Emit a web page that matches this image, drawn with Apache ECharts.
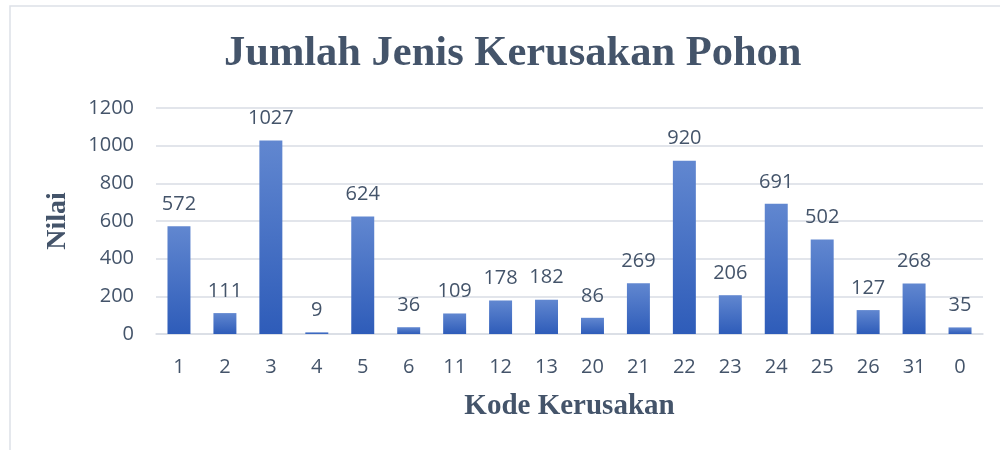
<!DOCTYPE html>
<html><head><meta charset="utf-8">
<script src="https://cdn.jsdelivr.net/npm/echarts@6/dist/echarts.min.js"></script>
<style>html,body{margin:0;padding:0;background:#fff}#c{width:1000px;height:450px}</style>
</head><body><div id="c"></div>
<script>
const categories = ['1','2','3','4','5','6','11','12','13','20','21','22','23','24','25','26','31','0'];
const values = [572,111,1027,9,624,36,109,178,182,86,269,920,206,691,502,127,268,35];
const yTicks = [0,200,400,600,800,1000,1200];

const chart = echarts.init(document.getElementById('c'));
const textColor = '#44546A';
const numFont = 'Open Sans';
chart.setOption({
  animation:false,
  graphic:[{type:'rect',shape:{x:10,y:6,width:1000,height:460},style:{fill:'none',stroke:'#DDE1E8',lineWidth:1.5}}],
  title:{text:'Jumlah Jenis Kerusakan Pohon',left:219,top:28,
    textStyle:{fontFamily:'Liberation Serif',fontWeight:'bold',fontSize:42.5,color:textColor}},
  grid:{left:156,right:17,top:108,bottom:116},
  xAxis:{type:'category',data:categories,
    name:'Kode Kerusakan',nameLocation:'middle',nameGap:58,
    nameTextStyle:{fontFamily:'Liberation Serif',fontWeight:'bold',fontSize:29,color:textColor},
    axisLine:{lineStyle:{color:'#D9DDE5',width:1.5}},axisTick:{show:false},
    axisLabel:{fontFamily:numFont,fontSize:20,color:textColor,margin:23}},
  yAxis:{type:'value',min:yTicks[0],max:yTicks[yTicks.length-1],interval:200,
    name:'Nilai',nameLocation:'middle',nameGap:84,
    nameTextStyle:{fontFamily:'Liberation Serif',fontWeight:'bold',fontSize:28,color:textColor},
    axisLine:{show:false},axisTick:{show:false},
    splitLine:{lineStyle:{color:'#D9DDE5',width:1.5}},
    axisLabel:{fontFamily:numFont,fontSize:20,color:textColor,margin:22,formatter:v=>String(v)}},
  series:[{type:'bar',data:values,barWidth:'50%',
    itemStyle:{color:new echarts.graphic.LinearGradient(0,0,0,1,[{offset:0,color:'#6187D0'},{offset:1,color:'#2E5CB9'}])},
    label:{show:true,position:'top',distance:12,fontFamily:numFont,fontSize:20,color:textColor}}]
});
</script></body></html>
